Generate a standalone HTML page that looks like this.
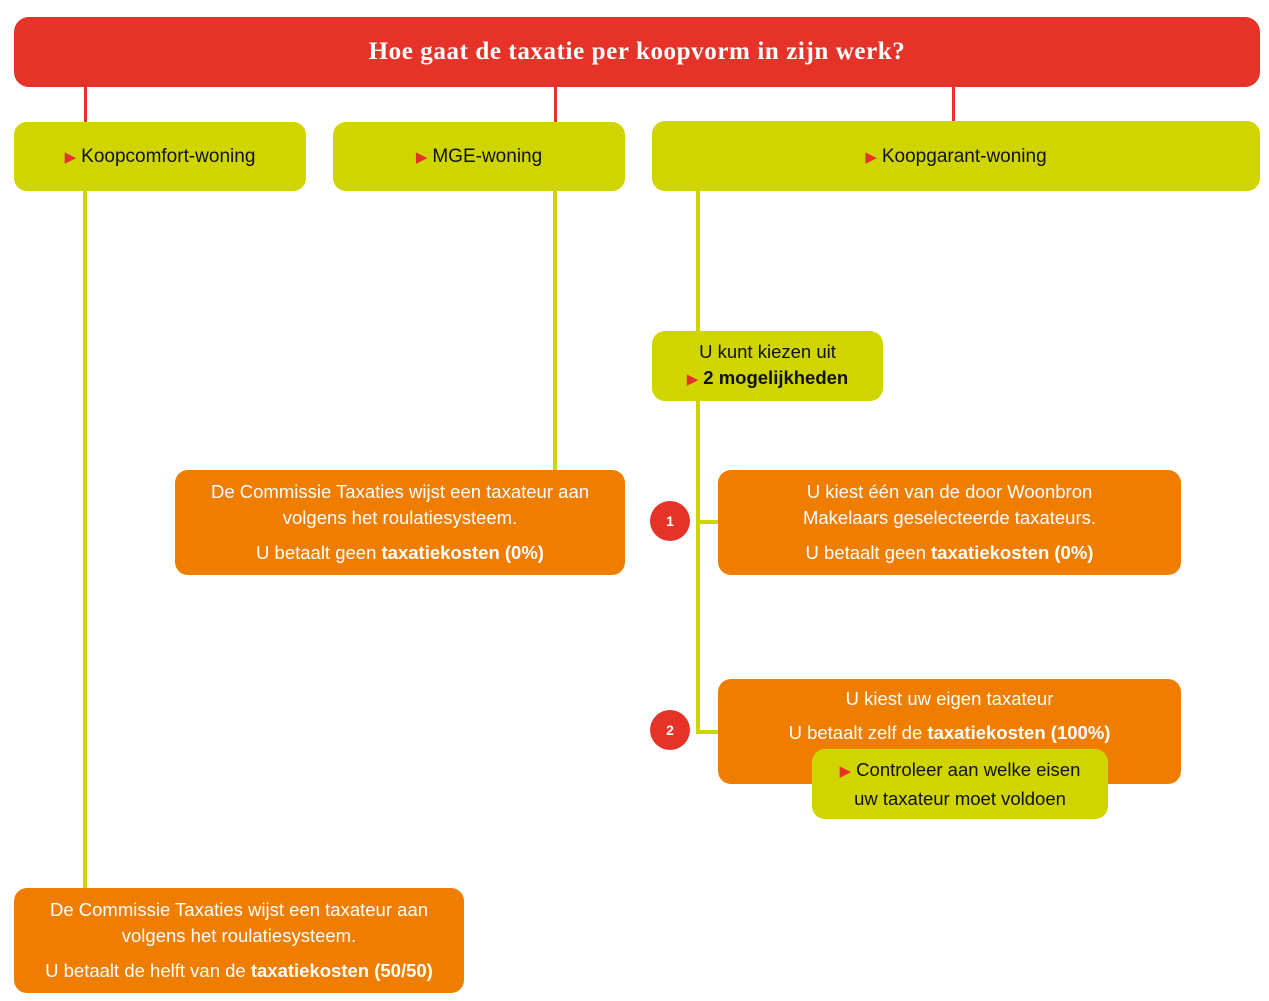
<!DOCTYPE html>
<html><head><meta charset="utf-8"><style>
body{margin:0;width:1269px;height:1001px;background:#fff;position:relative;overflow:hidden;font-family:"Liberation Sans",sans-serif;}
.b{position:absolute;box-sizing:border-box;display:flex;flex-direction:column;justify-content:center;align-items:center;text-align:center;border-radius:13px;}
.g{background:#d0d500;color:#111;font-size:19px;}
.o{background:#ef7d00;color:#fff;font-size:18.5px;line-height:26px;}
.l{position:absolute;}
.tri{color:#e6332a;font-size:15px;margin-right:5px;}
.c{position:absolute;width:40px;height:40px;border-radius:50%;background:#e6332a;color:#fff;font-weight:bold;font-size:14px;display:flex;align-items:center;justify-content:center;}
b{font-weight:bold}
</style></head><body>
<div class="l" style="left:84px;top:86px;width:3px;height:37px;background:#e6332a"></div>
<div class="l" style="left:554px;top:86px;width:3px;height:37px;background:#e6332a"></div>
<div class="l" style="left:952px;top:86px;width:3px;height:37px;background:#e6332a"></div>
<div class="l" style="left:83px;top:189px;width:4px;height:700px;background:#d0d500"></div>
<div class="l" style="left:553px;top:189px;width:4px;height:282px;background:#d0d500"></div>
<div class="l" style="left:696px;top:189px;width:4px;height:143px;background:#d0d500"></div>
<div class="l" style="left:696px;top:399px;width:4px;height:335px;background:#d0d500"></div>
<div class="l" style="left:696px;top:520px;width:23px;height:4px;background:#d0d500"></div>
<div class="l" style="left:696px;top:730px;width:23px;height:4px;background:#d0d500"></div>

<div class="b" style="left:14px;top:17px;width:1246px;height:70px;background:#e6332a;color:#fff;font-family:'Liberation Serif',serif;font-weight:bold;font-size:25px;letter-spacing:0.6px;border-radius:15px">Hoe gaat de taxatie per koopvorm in zijn werk?</div>

<div class="b g" style="left:14px;top:122px;width:292px;height:69px"><div><span class="tri">▶</span>Koopcomfort-woning</div></div>
<div class="b g" style="left:333px;top:122px;width:292px;height:69px"><div><span class="tri">▶</span>MGE-woning</div></div>
<div class="b g" style="left:652px;top:121px;width:608px;height:70px;padding-top:2px"><div><span class="tri">▶</span>Koopgarant-woning</div></div>

<div class="b g" style="left:652px;top:331px;width:231px;height:70px;line-height:26px;font-size:18.5px"><div>U kunt kiezen uit</div><div><span class="tri">▶</span><b>2 mogelijkheden</b></div></div>

<div class="b o" style="left:175px;top:470px;width:450px;height:105px"><div>De Commissie Taxaties wijst een taxateur aan</div><div>volgens het roulatiesysteem.</div><div style="margin-top:9px">U betaalt geen <b>taxatiekosten (0%)</b></div></div>
<div class="b o" style="left:718px;top:470px;width:463px;height:105px"><div>U kiest één van de door Woonbron</div><div>Makelaars geselecteerde taxateurs.</div><div style="margin-top:9px">U betaalt geen <b>taxatiekosten (0%)</b></div></div>
<div class="b o" style="left:718px;top:679px;width:463px;height:105px;justify-content:flex-start;padding-top:7px"><div>U kiest uw eigen taxateur</div><div style="margin-top:8px">U betaalt zelf de <b>taxatiekosten (100%)</b></div></div>
<div class="b g" style="left:812px;top:749px;width:296px;height:70px;line-height:27px;font-size:18.5px"><div><span class="tri">▶</span>Controleer aan welke eisen</div><div>uw taxateur moet voldoen</div></div>
<div class="b o" style="left:14px;top:888px;width:450px;height:105px"><div>De Commissie Taxaties wijst een taxateur aan</div><div>volgens het roulatiesysteem.</div><div style="margin-top:9px">U betaalt de helft van de <b>taxatiekosten (50/50)</b></div></div>

<div class="c" style="left:650px;top:501px">1</div>
<div class="c" style="left:650px;top:710px">2</div>
</body></html>
